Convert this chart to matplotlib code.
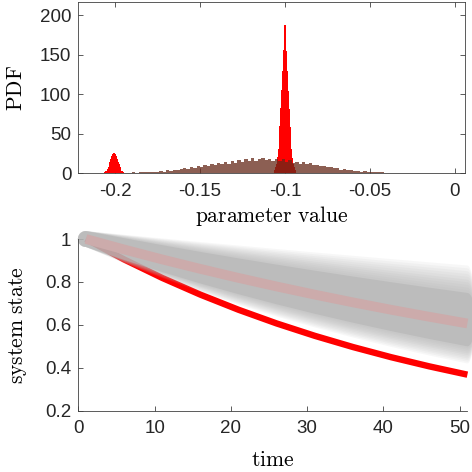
import numpy as np
import matplotlib
matplotlib.use('Agg')
import matplotlib.pyplot as plt

plt.rcParams['font.family'] = ['Liberation Sans', 'DejaVu Sans']
plt.rcParams['mathtext.fontset'] = 'cm'
plt.rcParams['axes.unicode_minus'] = False

# ---------------- data: top histogram ----------------
red_main_start = -0.10675
red_main_width = 0.0005
red_main_pdf = [2, 4, 7, 12, 20, 30, 44, 60, 82, 105, 130, 156, 188, 222,
                188, 155, 129, 104, 81, 59, 43, 30, 19, 12, 7, 4, 2]

red_small_start = -0.20625
red_small_width = 0.0005
red_small_pdf = [1, 2, 3, 5, 8, 11, 14, 18, 21, 24, 26, 25, 26, 24, 21, 18,
                 14, 11, 8, 5, 3, 2, 1]

broad_start = -0.196
broad_width = 0.002
broad_pdf = [0.3, 0.5, 0.2, 0.8, 0.6, 0.9, 0.7, 1.4, 1.0, 1.6,
             1.5, 2.4, 1.8, 3.2, 2.7, 3.9, 3.8, 5.6, 6.9, 5.5,
             8.1, 6.6, 9.4, 7.9, 10.6, 8.8, 11.9, 10.1, 12.5, 11.6,
             14.1, 12.0, 15.6, 12.9, 16.1, 14.4, 17.8, 15.0, 19.2, 15.6,
             17.9, 19.6, 16.3, 18.4, 15.1, 18.0, 14.9, 17.2, 14.0, 15.9,
             13.1, 14.4, 12.0, 13.6, 10.9, 12.3, 9.8, 10.4, 8.6, 9.3,
             7.1, 7.6, 5.9, 6.6, 4.4, 5.3, 3.8, 3.9, 2.9, 3.1,
             1.9, 2.4, 1.3, 1.7, 1.1, 0.9, 0.8, 0.6, 0.5, 0.4,
             0.3, 0.2]

param_ticks = [-0.2, -0.15, -0.1, -0.05, 0]
param_ticklabels = ['-0.2', '-0.15', '-0.1', '-0.05', '0']
pdf_ticks = [0, 50, 100, 150, 200]
pdf_ticklabels = ['0', '50', '100', '150', '200']

# ---------------- data: bottom trajectories ----------------
time = [1, 6, 11, 16, 21, 26, 31, 36, 41, 46, 51]
red_state = [1, 0.9048, 0.8187, 0.7408, 0.6703, 0.6065, 0.5488, 0.4966, 0.4493, 0.4066, 0.3679]
mean_state = [1, 0.9512, 0.9048, 0.8607, 0.8187, 0.7788, 0.7408, 0.7047, 0.6703, 0.6376, 0.6065]
# ensemble envelopes (outer, middle, core)
band_outer_hi = [1, 0.9827, 0.9656, 0.9489, 0.9324, 0.9162, 0.9003, 0.8847, 0.8694, 0.8543, 0.8395]
band_outer_lo = [1, 0.9247, 0.8551, 0.7907, 0.7311, 0.6761, 0.6252, 0.5781, 0.5345, 0.4943, 0.4571]
band_mid_hi = [1, 0.9747, 0.9500, 0.9260, 0.9026, 0.8797, 0.8574, 0.8357, 0.8146, 0.7939, 0.7738]
band_mid_lo = [1, 0.9324, 0.8694, 0.8106, 0.7558, 0.7047, 0.6571, 0.6126, 0.5712, 0.5326, 0.4966]
band_core_hi = [1, 0.9666, 0.9343, 0.9030, 0.8728, 0.8437, 0.8155, 0.7882, 0.7619, 0.7364, 0.7118]
band_core_lo = [1, 0.9397, 0.8830, 0.8298, 0.7797, 0.7327, 0.6885, 0.6470, 0.6080, 0.5713, 0.5369]

time_ticks = [0, 10, 20, 30, 40, 50]
time_ticklabels = ['0', '10', '20', '30', '40', '50']
state_ticks = [0.2, 0.4, 0.6, 0.8, 1]
state_ticklabels = ['0.2', '0.4', '0.6', '0.8', '1']

# ---------------- styling ----------------
W = 472
fig = plt.figure(figsize=(4.72, 4.72), dpi=100)
axis_col = '#404040'
tick_col = '#262626'
tick_fs = 13.5
label_fs = 15.5

def style(ax, box):
    for s in ax.spines.values():
        s.set_color(axis_col)
        s.set_linewidth(0.6)
    if not box:
        ax.spines['top'].set_visible(False)
        ax.spines['right'].set_visible(False)
    ax.tick_params(direction='in', length=3.5, width=0.6, color=axis_col,
                   labelcolor=tick_col, labelsize=tick_fs,
                   top=box, right=box)
    ax.tick_params(axis='x', pad=7)
    ax.tick_params(axis='y', pad=5)

# ---------------- top: histogram ----------------
ax1 = fig.add_axes([78.3 / W, (W - 173) / W, (465 - 78.3) / W, 171 / W])

def hist_fill(ax, start, width, vals, **kw):
    edges = start + width * np.arange(len(vals) + 1)
    xs = np.repeat(edges, 2)[1:-1]
    ys = np.repeat(np.asarray(vals, float), 2)
    ax.fill_between(xs, 0, ys, linewidth=0, **kw)

hist_fill(ax1, red_main_start, red_main_width, red_main_pdf, color=(1, 0, 0), zorder=2)
hist_fill(ax1, red_small_start, red_small_width, red_small_pdf, color=(1, 0, 0), zorder=2)
hist_fill(ax1, broad_start, broad_width, broad_pdf, color=(0.40, 0.16, 0.10), alpha=0.75, zorder=3)

ax1.set_xlim(-0.2216, 0.0059)
ax1.set_ylim(0, 217)
ax1.set_xticks(param_ticks)
ax1.set_xticklabels(param_ticklabels)
ax1.set_yticks(pdf_ticks)
ax1.set_yticklabels(pdf_ticklabels)
style(ax1, True)
ax1.set_xlabel(r'$\mathrm{parameter\ value}$', fontsize=label_fs)
ax1.set_ylabel(r'$\mathrm{PDF}$', fontsize=label_fs)
ax1.xaxis.set_label_coords(0.5, (173 - 216.5) / 171)
ax1.xaxis.label.set_va('center')
ax1.yaxis.set_label_coords((16.5 - 78.3) / (465 - 78.3), 0.5)
ax1.yaxis.label.set_va('center')

# ---------------- bottom: trajectories ----------------
ax2 = fig.add_axes([78.3 / W, (W - 410.7) / W, (467.4 - 78.3) / W, (410.7 - 239) / W])
ax2.set_xlim(0, 51)
ax2.set_ylim(0.2, 1.0)

r_t = 1.05   # marker radius in time units
r_y = 0.037  # marker radius in state units

def band(hi, lo):
    t = np.asarray(time, float)
    hi = np.asarray(hi) + r_y
    lo = np.asarray(lo) - r_y
    th = np.linspace(np.pi / 2, 3 * np.pi / 2, 20)
    cap_x = t[0] + r_t * np.cos(th)
    cap_y = 1 + r_y * np.sin(th)
    th2 = np.linspace(-np.pi / 2, np.pi / 2, 20)
    endc = (hi[-1] + lo[-1]) / 2
    endh = (hi[-1] - lo[-1]) / 2
    rcap_x = t[-1] + r_t * np.cos(th2)
    rcap_y = endc + endh * np.sin(th2)
    xs = np.concatenate([cap_x, t, rcap_x, t[::-1]])
    ys = np.concatenate([cap_y, lo, rcap_y, hi[::-1]])
    return xs, ys

ax2.plot(time, red_state, color=(1, 0, 0), lw=4.6, solid_capstyle='butt', zorder=1, clip_on=False)

# soft-edged ensemble: stacked translucent layers from outer to core envelope
gray = (0.71, 0.71, 0.71)
env_hi = [np.asarray(band_outer_hi), np.asarray(band_mid_hi), np.asarray(band_core_hi)]
env_lo = [np.asarray(band_outer_lo), np.asarray(band_mid_lo), np.asarray(band_core_lo)]
n_sub = 5
for seg, a in [(0, 0.10), (1, 0.13)]:
    for k in range(n_sub):
        f = k / n_sub
        hi = env_hi[seg] + f * (env_hi[seg + 1] - env_hi[seg])
        lo = env_lo[seg] + f * (env_lo[seg + 1] - env_lo[seg])
        xs, ys = band(hi, lo)
        ax2.fill(xs, ys, color=gray, alpha=a, lw=0, zorder=2, clip_on=False)
xs, ys = band(band_core_hi, band_core_lo)
ax2.fill(xs, ys, color=gray, alpha=0.62, lw=0, zorder=2, clip_on=False)

ax2.plot(time, mean_state, color=(0.80, 0.67, 0.67), lw=7, solid_capstyle='butt', zorder=3, clip_on=False)

ax2.set_xticks(time_ticks)
ax2.set_xticklabels(time_ticklabels)
ax2.set_yticks(state_ticks)
ax2.set_yticklabels(state_ticklabels)
style(ax2, False)
ax2.set_xlabel(r'$\mathrm{time}$', fontsize=label_fs)
ax2.set_ylabel(r'$\mathrm{system\ state}$', fontsize=label_fs)
ax2.xaxis.set_label_coords(0.5, (410.7 - 460) / (410.7 - 239))
ax2.xaxis.label.set_va('center')
ax2.yaxis.set_label_coords((18 - 78.3) / (467.4 - 78.3), 0.5)
ax2.yaxis.label.set_va('center')

fig.savefig('out.png', dpi=100)
